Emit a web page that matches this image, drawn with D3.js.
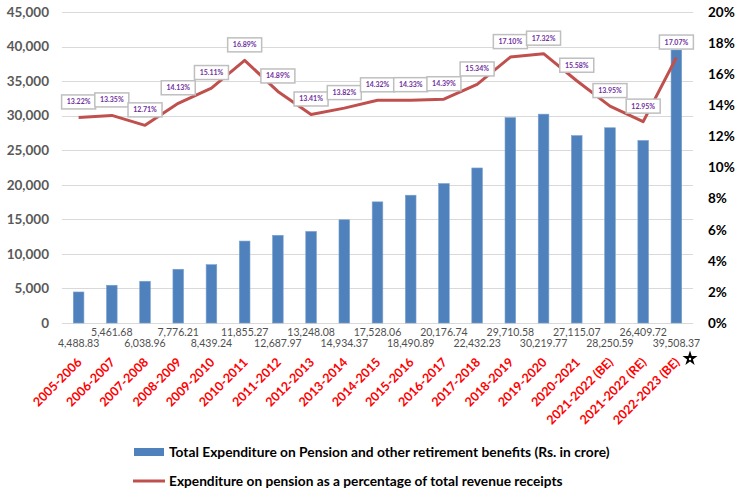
<!DOCTYPE html>
<html>
<head>
<meta charset="utf-8">
<script src="https://cdn.jsdelivr.net/npm/d3@7"></script>
<style>
  html, body { margin: 0; padding: 0; background: #fff; }
  svg { display: block; font-family: Lato, "Open Sans", sans-serif; }
</style>
</head>
<body>
<svg id="chart" width="737" height="488"></svg>
<script>
const categories = ["2005-2006","2006-2007","2007-2008","2008-2009","2009-2010","2010-2011","2011-2012","2012-2013","2013-2014","2014-2015","2015-2016","2016-2017","2017-2018","2018-2019","2019-2020","2020-2021","2021-2022 (BE)","2021-2022 (RE)","2022-2023 (BE)"];
const expenditure = [4488.83,5461.68,6038.96,7776.21,8439.24,11855.27,12687.97,13248.08,14934.37,17528.06,18490.89,20176.74,22432.23,29710.58,30219.77,27115.07,28250.59,26409.72,39508.37];
const percentRevenue = [13.22,13.35,12.71,14.13,15.11,16.89,14.89,13.41,13.82,14.32,14.33,14.39,15.34,17.10,17.32,15.58,13.95,12.95,17.07];
const leftTicks = [0,5000,10000,15000,20000,25000,30000,35000,40000,45000];
const rightTicks = [0,2,4,6,8,10,12,14,16,18,20];
const legendLabels = ["Total Expenditure on Pension and other retirement benefits (Rs. in crore)","Expenditure on pension as a percentage of total revenue receipts"];

const svg = d3.select("#chart");
const L = 62, R = 693, T = 12, B = 323;

const x = d3.scaleBand().domain(categories).range([L, R]).paddingInner(0.68).paddingOuter(0.34);
const yL = d3.scaleLinear().domain([0, 45000]).range([B, T]);
const yR = d3.scaleLinear().domain([0, 20]).range([B, T]);
const cx = c => x(c) + x.bandwidth() / 2;

// gridlines
svg.append("g").selectAll("line").data(leftTicks).join("line")
  .attr("x1", L).attr("x2", R)
  .attr("y1", d => Math.round(yL(d)) + 0.5).attr("y2", d => Math.round(yL(d)) + 0.5)
  .attr("stroke", "#d9d9d9").attr("stroke-width", 1);

// left axis
const axL = svg.append("g").attr("transform", `translate(${L - 13},0)`)
  .call(d3.axisLeft(yL).tickValues(leftTicks).tickFormat(d3.format(",")).tickSize(0).tickPadding(0));
axL.select(".domain").remove();
axL.selectAll("text").attr("font-size", 13.5).attr("font-weight", "bold").attr("fill", "#595959")
  .attr("font-family", "Lato, sans-serif");

// right axis
const axR = svg.append("g").attr("transform", `translate(${R + 15},0)`)
  .call(d3.axisRight(yR).tickValues(rightTicks).tickFormat(d => d + "%").tickSize(0).tickPadding(0));
axR.select(".domain").remove();
axR.selectAll("text").attr("font-size", 13.5).attr("font-weight", "bold").attr("fill", "#000")
  .attr("font-family", "Lato, sans-serif");

// bars
svg.append("g").selectAll("rect").data(expenditure).join("rect")
  .attr("x", (d, i) => x(categories[i]))
  .attr("width", x.bandwidth())
  .attr("y", d => yL(d))
  .attr("height", d => B - yL(d))
  .attr("fill", "#4f81bd")
  .attr("stroke", "#7ba0cd").attr("stroke-width", 0.6);

// bar value labels (alternating rows)
svg.append("g").selectAll("text").data(expenditure).join("text")
  .attr("x", (d, i) => cx(categories[i]))
  .attr("y", (d, i) => i % 2 === 0 ? 343.5 : 332)
  .attr("dy", "0.35em")
  .attr("text-anchor", "middle")
  .attr("font-size", 10.5).attr("fill", "#505050")
  .text(d => d3.format(",.2f")(d));

// line
const line = d3.line().x((d, i) => cx(categories[i])).y(d => yR(d));
svg.append("path").datum(percentRevenue)
  .attr("d", line).attr("fill", "none")
  .attr("stroke", "#c0504d").attr("stroke-width", 3).attr("stroke-linejoin", "round");

// line labels
const lbl = svg.append("g").selectAll("g").data(percentRevenue).join("g")
  .attr("transform", (d, i) => `translate(${cx(categories[i])},${yR(d) - 15.5})`);
lbl.append("rect").attr("x", -17).attr("y", -7).attr("width", 34).attr("height", 14)
  .attr("fill", "#fff").attr("stroke", "#bfbfbf").attr("stroke-width", 1.5);
lbl.append("text").attr("text-anchor", "middle").attr("dy", "0.35em")
  .attr("font-size", 7).attr("font-weight", "bold").attr("fill", "#7030a0")
  .text(d => d3.format(".2f")(d) + "%");

// x axis labels
svg.append("g").selectAll("text").data(categories).join("text")
  .attr("transform", c => `translate(${cx(c) + 4},${363}) rotate(-45)`)
  .attr("text-anchor", "end")
  .attr("font-size", 12.5).attr("font-weight", "bold").attr("fill", "#ff0000")
  .text(c => c);

// star marker
svg.append("path")
  .attr("d", d3.symbol().type(d3.symbolStar).size(70)())
  .attr("transform", "translate(690,358.5)")
  .attr("fill", "#000");
svg.append("circle").attr("cx", 690).attr("cy", 359).attr("r", 1.2).attr("fill", "#fff");

// legend
function fit(sel, target) {
  const n = sel.node();
  const w = n.getComputedTextLength();
  const fs = parseFloat(sel.attr("font-size"));
  sel.attr("font-size", fs * target / w);
}
svg.append("rect").attr("x", 134).attr("y", 448).attr("width", 30).attr("height", 8).attr("fill", "#4f81bd");
const t1 = svg.append("text").attr("x", 169).attr("y", 452).attr("dy", "0.35em")
  .attr("font-size", 13).attr("font-weight", "bold").attr("fill", "#000").text(legendLabels[0]);
fit(t1, 441);
svg.append("line").attr("x1", 133).attr("x2", 165).attr("y1", 481).attr("y2", 481)
  .attr("stroke", "#c0504d").attr("stroke-width", 3);
const t2 = svg.append("text").attr("x", 169).attr("y", 481).attr("dy", "0.35em")
  .attr("font-size", 13).attr("font-weight", "bold").attr("fill", "#000").text(legendLabels[1]);
fit(t2, 394);
</script>
</body>
</html>
